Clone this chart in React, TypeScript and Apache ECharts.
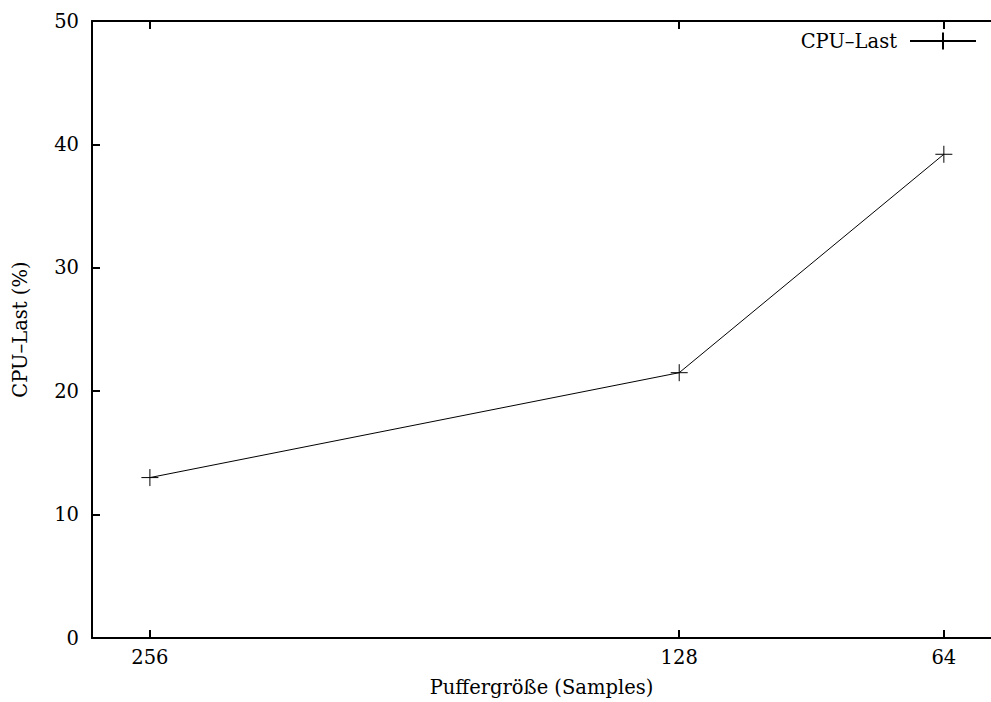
import React, { useEffect, useRef } from "react";
import * as echarts from "echarts";

const bufferSizes = [256, 128, 64];
const cpuLoad = [13.0, 21.5, 39.2];
const xTickValues = [256, 128, 64];
const seriesName = "CPU–Last";
const xAxisTitle = "Puffergröße (Samples)";
const yAxisTitle = "CPU–Last (%)";

const FONT = "DejaVu Serif";
const plusPath = "path://M0,-1L0,1M-1,0L1,0";

export default function App() {
  const ref = useRef<HTMLDivElement>(null);
  useEffect(() => {
    if (!ref.current) return;
    const chart = echarts.init(ref.current, undefined, { renderer: "svg" });
    const axisText = { fontFamily: FONT, fontSize: 19.5, color: "#000" };
    chart.setOption({
      animation: false,
      backgroundColor: "#fff",
      textStyle: { fontFamily: FONT },
      grid: { left: 92, right: 0, top: 21, bottom: 61, containLabel: false },
      legend: {
        right: 14,
        top: 31,
        padding: 0,
        align: "right",
        itemWidth: 66,
        itemHeight: 21,
        textStyle: { ...axisText, padding: [0, 8, 0, 0] },
        data: [seriesName],
      },
      xAxis: [
        {
          type: "value",
          min: 52.6,
          max: 270,
          inverse: true,
          position: "bottom",
          name: xAxisTitle,
          nameLocation: "middle",
          nameGap: 39,
          nameTextStyle: axisText,
          axisLine: { show: true, onZero: false, lineStyle: { color: "#000", width: 2 } },
          axisTick: { show: true, inside: true, length: 8, customValues: xTickValues, lineStyle: { color: "#000", width: 2 } },
          axisLabel: { show: true, margin: 9, customValues: xTickValues, ...axisText },
          splitLine: { show: false },
        },
        {
          type: "value",
          min: 52.6,
          max: 270,
          inverse: true,
          position: "top",
          axisLine: { show: true, onZero: false, lineStyle: { color: "#000", width: 2 } },
          axisTick: { show: true, inside: true, length: 8, customValues: xTickValues, lineStyle: { color: "#000", width: 2 } },
          axisLabel: { show: false },
          splitLine: { show: false },
        },
      ],
      yAxis: {
        type: "value",
        min: 0,
        max: 50,
        interval: 10,
        name: yAxisTitle,
        nameLocation: "middle",
        nameGap: 62,
        nameTextStyle: axisText,
        axisLine: { show: true, onZero: false, lineStyle: { color: "#000", width: 2 } },
        axisTick: { show: true, inside: true, length: 8, lineStyle: { color: "#000", width: 2 } },
        axisLabel: { margin: 13, ...axisText },
        splitLine: { show: false },
      },
      series: [
        {
          name: seriesName,
          type: "line",
          xAxisIndex: 0,
          data: bufferSizes.map((b, i) => [b, cpuLoad[i]]),
          symbol: plusPath,
          symbolSize: 17,
          showSymbol: true,
          lineStyle: { color: "#000", width: 1 },
          itemStyle: { color: "transparent", borderColor: "#000", borderWidth: 1 },
          emphasis: { disabled: true },
        },
      ],
    });
    return () => chart.dispose();
  }, []);
  return (
    <div
      ref={ref}
      style={{ position: "fixed", left: 0, top: 0, width: 991, height: 702, background: "#fff" }}
    />
  );
}
